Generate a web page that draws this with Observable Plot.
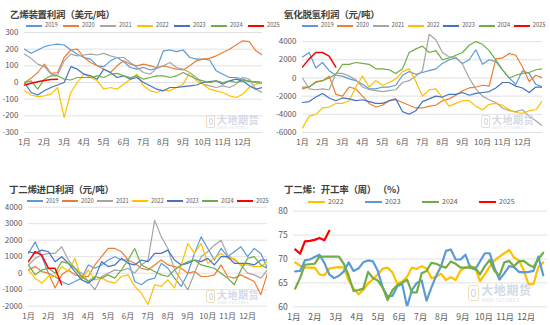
<!DOCTYPE html>
<html><head><meta charset="utf-8">
<script src="https://cdn.jsdelivr.net/npm/d3@7"></script>
<script src="https://cdn.jsdelivr.net/npm/@observablehq/plot@0.6"></script>
<style>
body{margin:0;background:#fff;font-family:"Noto Sans CJK SC","Noto Sans",sans-serif;}
#root{position:relative;width:550px;height:325px;overflow:hidden;background:#fff}
.title{position:absolute;font-size:9.5px;font-weight:bold;color:#404040;white-space:nowrap;line-height:1;letter-spacing:-0.3px}
.lab{position:absolute;color:#595959;white-space:nowrap;line-height:1}
.ln{position:absolute}
</style></head><body><div id="root"></div><script>
// ---------- data ----------
const years7 = ["2019","2020","2021","2022","2023","2024","2025"];
const colors7 = ["#5B9BD5","#ED7D31","#A5A5A5","#FFC000","#4472C4","#70AD47","#FF0000"];
const monthLabels = ["1月","2月","3月","4月","5月","6月","7月","8月","9月","10月","11月","12月"];

// Panel 1: 乙烯装置利润 (USD/t), one value every 1/3 month
const p1_2019 = [200,175,195,215,225,230,225,195,170,150,140,100,95,130,150,125,90,80,90,75,85,190,195,185,195,150,140,140,135,70,50,30,30,20,5,5,0];
const p1_2020 = [0,25,60,110,55,60,150,195,200,150,120,100,80,60,100,130,110,100,110,100,90,100,90,80,75,100,130,140,145,160,180,200,225,250,245,190,165];
const p1_2021 = [170,145,110,95,50,45,130,170,160,165,170,165,175,160,150,150,120,90,60,50,85,100,120,90,80,60,30,-10,-20,-30,-20,-30,-10,30,20,-40,-60];
const p1_2022 = [-50,-75,-85,-80,-70,-30,-210,-60,0,50,30,10,-40,-30,-40,-10,20,50,-20,-50,-60,-45,-50,-30,-10,60,10,-10,-40,-50,-60,-80,-90,-70,-30,-10,0];
const p1_2023 = [0,-60,-75,-50,-30,-15,0,95,80,50,40,20,80,60,30,40,20,30,0,-20,-40,-50,-30,-30,-25,-20,-15,0,5,10,-10,10,20,10,-20,-40,-30];
const p1_2024 = [0,10,-40,20,40,40,20,15,30,30,30,40,30,50,55,40,30,40,20,30,40,40,30,40,60,40,20,10,0,10,0,10,0,10,10,0,-5];
const p1_2025 = [-15,-5,5,12,18,20];

// Panel 2: 氧化脱氢利润 (CNY/t)
const p2_2019 = [2300,2800,1100,1700,800,300,200,-100,-300,-700,-1200,-1200,-1000,-1000,-800,300,700,400,600,800,1000,1600,2000,2200,1600,2000,3100,1500,2000,1800,900,0,-700,800,500,-700,-1000];
const p2_2020 = [-1200,-1000,-400,-300,200,-1800,-2000,-1000,-1200,-2000,-2800,-3200,-3000,-2500,-2400,-2700,-3000,-3300,-3300,-3100,-3000,-2500,-2300,-1900,-1400,-1100,-1000,-800,-900,2100,2200,2700,2500,1200,-400,300,0];
const p2_2021 = [0,-1200,-1300,-1200,-1300,500,500,200,-200,-1000,-1300,-1400,-1500,-1400,-1300,-500,-300,200,800,4800,4200,2800,2300,2300,1500,0,-1200,-2000,-2400,-2700,-3300,-3600,-3700,-3500,-4200,-4700,-5300];
const p2_2022 = [-5500,-4200,-4000,-3300,-3200,-2800,-2800,-2500,-1000,200,-1000,-300,-800,-500,-100,700,1000,-400,-2000,-1300,-1200,-2200,-3100,-2800,-2500,-2500,-3100,-3500,-2900,-2800,-3000,-3500,-3800,-3900,-3600,-3500,-2500];
const p2_2023 = [-2700,-2600,-2100,-1700,-2200,-2500,-2200,-2300,-2500,-2400,-2600,-2800,-2800,-2500,-2300,-3700,-4000,-3600,-2600,-2300,-2000,-2100,-1800,-1800,-1600,-1900,-1700,-1600,-1500,-1100,-500,-500,-900,-1100,-1600,-1000,-1000];
const p2_2024 = [-1000,-1000,-500,-300,0,400,1500,1500,1700,1600,1500,1000,1000,900,500,1000,2800,3200,3500,2800,3000,2000,2200,2500,2800,3600,4000,3700,3000,2000,900,0,300,500,600,900,1000];
const p2_2025 = [1200,2100,2800,2800,2400,1200];

// Panel 3: 丁二烯进口利润 (CNY/t)
const p3_2019 = [1200,1900,1000,0,-200,-500,-700,-500,-300,500,300,500,800,1000,800,800,-500,-700,-400,-300,600,300,-300,-800,0,1200,2200,1500,800,1500,1000,1300,1600,1000,1500,1200,300];
const p3_2020 = [200,400,100,0,-900,-100,200,-100,-200,-200,500,1000,1500,1500,1300,800,600,300,200,500,800,500,400,300,0,100,-200,-200,-100,500,-200,-300,-100,-300,-500,-1300,0];
const p3_2021 = [500,900,1100,1200,1200,1600,800,300,0,-500,-1000,-200,0,200,150,300,0,500,800,3200,2200,1500,200,-400,-1000,0,1000,1300,1700,2000,1100,800,500,0,-100,-300,200];
const p3_2022 = [200,-300,-600,-200,-200,400,100,900,-400,200,-400,-300,-500,-600,-200,-100,-800,-1200,-1900,-700,-800,-400,-900,500,1800,1200,1800,600,900,1200,900,900,500,500,400,400,700];
const p3_2023 = [1300,1200,1400,1300,700,1000,600,100,-400,-600,-300,700,400,500,900,600,500,800,700,1200,1200,1400,800,500,600,800,700,900,500,1000,1000,600,600,600,500,800,800];
const p3_2024 = [500,-100,200,300,0,700,600,300,-200,-500,-200,-300,-100,-300,200,800,1500,500,300,100,-100,-200,200,500,700,800,500,400,300,0,-300,-700,200,900,1000,500,300];
const p3_2025 = [700,1300,1100,300,300,-700];

// Panel 4: 丁二烯开工率 (%), weekly
const p4_years = ["2022","2023","2024","2025"];
const p4_colors = ["#FFC000","#5B9BD5","#70AD47","#FF0000"];
const p4_2022 = [69.3,68.6,68.2,68.2,68.2,66.8,66.6,68.0,68.2,68.3,68.2,65.5,63.8,62.6,63.5,64.9,65.8,66.8,68.0,68.2,67.2,64.8,65.3,66.3,68.2,67.9,68.5,68.0,66.0,66.3,66.9,65.6,66.2,65.6,67.6,68.2,68.6,68.1,65.4,66.8,68.4,69.7,70.5,71.2,71.9,70.3,69.7,67.6,64.7,64.8,68.3,69.3];
const p4_2023 = [67.4,67.5,69.7,69.9,70.4,70.9,69.2,66.8,66.0,66.5,67.4,69.3,67.5,68.0,69.3,69.7,69.5,67.5,64.0,62.2,62.3,64.3,64.8,60.0,63.5,65.0,65.5,61.3,64.0,66.5,68.5,71.7,72.0,69.9,69.9,70.9,68.2,67.8,69.5,71.2,71.2,68.0,65.7,67.0,68.5,68.3,67.3,67.2,67.3,67.5,70.5,66.6];
const p4_2024 = [63.8,66.0,68.8,68.9,69.0,70.5,70.5,70.5,70.5,70.5,69.0,66.5,63.3,63.5,63.8,67.3,66.0,65.5,64.0,61.4,63.5,64.5,65.0,65.7,63.0,63.0,67.0,67.5,69.2,69.0,68.5,68.2,69.5,69.0,68.2,68.2,68.2,68.2,66.8,68.5,69.8,67.5,66.5,69.3,69.6,68.5,69.5,69.6,68.8,68.3,70.0,71.3];
const p4_2025 = [72.0,71.1,73.7,73.8,74.0,74.4,73.9,75.9];

// ---------- helpers ----------
const root = document.getElementById("root");
const FONT = '"Noto Sans CJK SC","Noto Sans",sans-serif';
function add(el, x, y){ el.style.left = x + "px"; el.style.top = y + "px"; root.appendChild(el); return el; }
function title(text, x, y){ const d = document.createElement("div"); d.className = "title"; d.textContent = text; add(d, x, y); }
function legend(years, colors, x0, y, step, L, lw, fs){
  years.forEach((yr, k) => {
    const x = x0 + k * step;
    const ln = document.createElement("div"); ln.className = "ln";
    ln.style.width = L + "px"; ln.style.height = lw + "px"; ln.style.background = colors[k];
    add(ln, x, y - lw / 2);
    const t = document.createElement("div"); t.className = "lab"; t.style.fontSize = fs + "px"; t.textContent = yr;
    add(t, x + L + 3, y - fs * 0.55);
  });
}
function watermark(x, y, s){
  const box = document.createElement("div");
  box.style.position = "absolute"; box.style.opacity = "0.9";
  box.innerHTML =
    `<div style="position:absolute;left:0;top:0;width:${9*s}px;height:${13*s}px;border:${1.2*s}px solid #eadcb8;border-radius:${2*s}px;box-sizing:border-box"></div>
     <div style="position:absolute;left:${2.5*s}px;top:${3*s}px;width:${4*s}px;height:${7*s}px;border:${1*s}px solid #c9d5e6;border-radius:50%;box-sizing:border-box"></div>
     <div style="position:absolute;left:${11*s}px;top:${-0.5*s}px;font-size:${10*s}px;font-weight:bold;color:#cfd6e2;white-space:nowrap;line-height:1;letter-spacing:${0.5*s}px">大地期货</div>
     <div style="position:absolute;left:${11.5*s}px;top:${11*s}px;font-size:${3.5*s}px;color:#cfd6e2;white-space:nowrap;line-height:1;letter-spacing:${0.6*s}px">DADI FUTURES</div>`;
  add(box, x, y);
}
function chart(cfg){
  const marks = [
    Plot.ruleY(cfg.yTicks, {stroke: "#d9d9d9", strokeWidth: 0.8}),
    Plot.axisY(cfg.yTicks, {tickSize: 0, tickPadding: cfg.yPad, tickFormat: d => String(d), fontSize: cfg.fs, fill: "#595959"}),
    Plot.axisX(d3.range(12), {tickSize: 0, tickPadding: cfg.xPad, tickFormat: d => monthLabels[d], fontSize: cfg.fs, fill: "#595959"})
  ];
  cfg.series.forEach((vals, k) => {
    const rows = vals.map((v, i) => ({t: cfg.tOf(i), v}));
    marks.push(Plot.line(rows, {x: "t", y: "v", stroke: cfg.colors[k], strokeWidth: cfg.widths ? cfg.widths[k] : cfg.sw, clip: true, strokeLinejoin: "round"}));
  });
  const svg = Plot.plot({
    width: 275, height: cfg.height,
    marginLeft: cfg.mL, marginRight: cfg.mR, marginTop: cfg.mT, marginBottom: cfg.mB,
    x: {type: "linear", domain: [0, 12], label: null},
    y: {domain: cfg.yDomain, label: null},
    style: {fontFamily: FONT, background: "transparent", overflow: "visible"},
    marks
  });
  svg.style.position = "absolute";
  add(svg, cfg.left, cfg.top);
}
const third = i => i / 3;
const week = i => (i * 7 + 2) / (365 / 12);
const w7 = [1.2,1.2,1.2,1.2,1.2,1.2,1.5];

// ---------- panel 1 ----------
chart({left: 0, top: 28, height: 122, mL: 24, mR: 13, mT: 4, mB: 18, fs: 8, yPad: 6, xPad: 7,
  yDomain: [-300, 300], yTicks: [300,200,100,0,-100,-200,-300], tOf: third,
  series: [p1_2019,p1_2020,p1_2021,p1_2022,p1_2023,p1_2024,p1_2025], colors: colors7, widths: w7});
title("乙烯装置利润（美元/吨）", 10, 9.5);
legend(years7, colors7, 26, 25.5, 37, 16, 2, 5.7);
watermark(206, 115, 1);

// ---------- panel 2 ----------
chart({left: 275, top: 28, height: 122, mL: 27, mR: 8, mT: 4, mB: 18, fs: 8, yPad: 6, xPad: 7,
  yDomain: [-6000, 5000], yTicks: [4000,2000,0,-2000,-4000,-6000], tOf: third,
  series: [p2_2019,p2_2020,p2_2021,p2_2022,p2_2023,p2_2024,p2_2025], colors: colors7, widths: w7});
title("氧化脱氢利润（元/吨）", 284, 9.5);
legend(years7, colors7, 302, 25.5, 35.3, 16, 2, 5.7);
watermark(481, 115, 1);

// ---------- panel 3 ----------
chart({left: 0, top: 200, height: 125, mL: 28, mR: 8, mT: 6.7, mB: 19.3, fs: 8, yPad: 6, xPad: 7.5,
  yDomain: [-2000, 4000], yTicks: [4000,3000,2000,1000,0,-1000,-2000], tOf: third,
  series: [p3_2019,p3_2020,p3_2021,p3_2022,p3_2023,p3_2024,p3_2025], colors: colors7, widths: w7});
title("丁二烯进口利润（元/吨）", 9, 184.5);
legend(years7, colors7, 27, 200.7, 35, 16, 2, 5.7);
watermark(206, 290, 1);

// ---------- panel 4 ----------
chart({left: 275, top: 205, height: 120, mL: 18.3, mR: 3.1, mT: 5.7, mB: 18.7, fs: 8.5, yPad: 6, xPad: 7,
  yDomain: [60, 80], yTicks: [80,75,70,65,60], tOf: week,
  series: [p4_2022,p4_2023,p4_2024,p4_2025], colors: p4_colors, sw: 2.2});
title("丁二烯：开工率（周）  （%）", 284, 184.5);
legend(p4_years, p4_colors, 308, 202, 57, 17, 2.5, 7);
watermark(468, 285, 1.2);
</script></body></html>
